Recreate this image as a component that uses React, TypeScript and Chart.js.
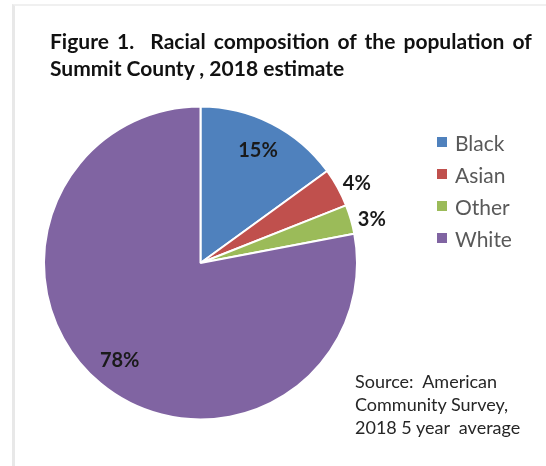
import React, { useEffect, useRef } from "react";
import { Chart, registerables } from "chart.js";

Chart.register(...registerables);

const categories = ["Black", "Asian", "Other", "White"];
const values = [15, 4, 3, 78];
const colors = ["#4F81BD", "#C0504D", "#9BBB59", "#8064A2"];
const titleLines = ["Figure 1.  Racial composition of the population of", "Summit County , 2018 estimate"];
const sourceLines = ["Source:  American", "Community Survey,", "2018 5 year  average"];

const FONT = "Lato, 'Open Sans', sans-serif";

const labelPlugin = {
  id: "sliceLabels",
  afterDatasetsDraw(chart: any) {
    const ctx = chart.ctx;
    const meta = chart.getDatasetMeta(0);
    const data = chart.data.datasets[0].data as number[];
    ctx.save();
    ctx.font = `bold 20px ${FONT}`;
    ctx.fillStyle = "#1a1a1a";
    ctx.textAlign = "center";
    ctx.textBaseline = "middle";
    meta.data.forEach((arc: any, i: number) => {
      const p = arc.getProps(["x", "y", "startAngle", "endAngle", "outerRadius"], true);
      const mid = (p.startAngle + p.endAngle) / 2;
      const inside = data[i] >= 10;
      const r = p.outerRadius * (inside ? 0.81 : 1.14);
      const dy = inside ? 0 : 6;
      ctx.fillText(`${data[i]}%`, p.x + Math.cos(mid) * r, p.y + Math.sin(mid) * r + dy);
    });
    ctx.restore();
  },
};

export default function App() {
  const ref = useRef<HTMLCanvasElement>(null);
  useEffect(() => {
    if (!ref.current) return;
    const chart = new Chart(ref.current, {
      type: "pie",
      data: {
        labels: categories,
        datasets: [
          {
            data: values,
            backgroundColor: colors,
            borderColor: "#ffffff",
            borderWidth: 2,
          },
        ],
      },
      options: {
        animation: false,
        responsive: false,
        layout: { padding: { top: 105, bottom: 45, left: 43, right: 188 } },
        plugins: {
          legend: { display: false },
          tooltip: { enabled: false },
          title: { display: false },
        },
      },
      plugins: [labelPlugin],
    });
    return () => chart.destroy();
  }, []);

  return (
    <div style={{ position: "absolute", left: 0, top: 0, width: 546, height: 466, background: "#fff", overflow: "hidden" }}>
      <div style={{ position: "absolute", left: 12, top: 4, right: 0, bottom: 0, borderLeft: "3px solid #e8e8e8", borderTop: "2px solid #f0f0f0" }} />
      <canvas ref={ref} width={546} height={466} style={{ position: "absolute", left: 0, top: 0 }} />
      <div style={{ position: "absolute", left: 50, top: 27, fontFamily: FONT, fontWeight: 700, fontSize: 21, lineHeight: "27px", color: "#111", whiteSpace: "nowrap" }}>
        {titleLines.map((t, i) => (
          <div key={i} style={{ whiteSpace: "pre", wordSpacing: i === 0 ? "3px" : "0px" }}>{t}</div>
        ))}
      </div>
      <div style={{ position: "absolute", left: 437, top: 126, fontFamily: FONT, fontSize: 21, color: "#595959" }}>
        {categories.map((c, i) => (
          <div key={c} style={{ display: "flex", alignItems: "center", height: 32 }}>
            <span style={{ display: "inline-block", width: 10, height: 10, background: colors[i], marginRight: 8 }} />
            <span>{c}</span>
          </div>
        ))}
      </div>
      <div style={{ position: "absolute", left: 355, top: 370, fontFamily: FONT, fontSize: 18, lineHeight: "23px", color: "#262626" }}>
        {sourceLines.map((t, i) => (
          <div key={i} style={{ whiteSpace: "pre" }}>{t}</div>
        ))}
      </div>
    </div>
  );
}
